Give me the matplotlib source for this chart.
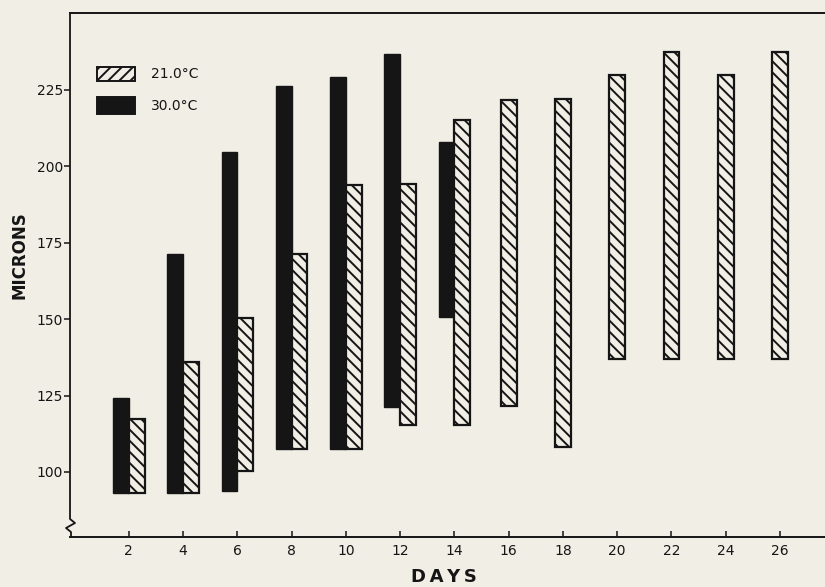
import matplotlib
matplotlib.use("Agg")
import matplotlib.pyplot as plt
from matplotlib.patches import Rectangle
from matplotlib.lines import Line2D

# Growth ranges (microns) per sampling day at two temperatures
days_21 = [2, 4, 6, 8, 10, 12, 14, 16, 18, 20, 22, 24, 26]
low_21 = [93.2, 93.2, 100.4, 107.4, 107.4, 115.2, 115.2, 121.6, 108.3, 137.0, 137.0, 137.0, 137.0]
high_21 = [117.2, 136.1, 150.3, 171.2, 193.9, 194.1, 215.2, 221.7, 221.9, 229.8, 237.4, 230.0, 237.4]

days_30 = [2, 4, 6, 8, 10, 12, 14]
low_30 = [93.2, 93.2, 93.8, 107.4, 107.4, 121.4, 150.8]
high_30 = [124.1, 171.2, 204.6, 226.2, 229.1, 236.8, 207.9]

x_ticks = [2, 4, 6, 8, 10, 12, 14, 16, 18, 20, 22, 24, 26]
y_ticks = [100, 125, 150, 175, 200, 225]
series_labels = ["21.0°C", "30.0°C"]

BG = "#f0eee5"
INK = "#151515"
W = 0.58

plt.rcParams["font.family"] = ["DejaVu Sans"]
plt.rcParams["hatch.linewidth"] = 1.4
plt.rcParams["hatch.color"] = INK

fig = plt.figure(figsize=(8.25, 5.87), dpi=100, facecolor=BG)
FW, FH = 825.0, 587.0
ax_l, ax_r, ax_t, ax_b = 70.0, 825.0, 13.0, 537.0
ax = fig.add_axes([ax_l / FW, 1 - ax_b / FH, (ax_r - ax_l) / FW, (ax_b - ax_t) / FH])
ax.set_facecolor(BG)

# 30.0 °C: solid bars, left of the day
ax.bar([d - W for d in days_30], [h - l for h, l in zip(high_30, low_30)],
       bottom=low_30, width=W, align="edge", color=INK, edgecolor=INK,
       linewidth=1.0, zorder=3)

# 21.0 °C: hatched bars, right of the day when paired, centred otherwise
x21 = [d if d in days_30 else d - W / 2 for d in days_21]
ax.bar(x21, [h - l for h, l in zip(high_21, low_21)], bottom=low_21,
       width=W, align="edge", facecolor=BG, edgecolor=INK, hatch="\\\\\\",
       linewidth=1.6, zorder=3)

ax.set_xlim(-0.17, 27.66)
ax.set_ylim(78.7, 250.2)
ax.set_xticks(x_ticks)
ax.set_xticklabels([str(t) for t in x_ticks])
ax.set_yticks(y_ticks)
ax.set_yticklabels([str(t) for t in y_ticks])
ax.tick_params(axis="x", direction="in", length=4, width=1.1, pad=5,
               labelsize=10, colors=INK)
ax.tick_params(axis="y", direction="out", length=4, width=1.1, pad=1,
               labelsize=10, colors=INK)

for s in ("right", "left"):
    ax.spines[s].set_visible(False)
for s in ("top", "bottom"):
    ax.spines[s].set_linewidth(1.4)
    ax.spines[s].set_color(INK)

# Left axis with a break mark near the bottom
def ax_pt(px, py):
    return ((px - ax_l) / (ax_r - ax_l), (ax_b - py) / (ax_b - ax_t))

pts = [ax_pt(70, 13), ax_pt(70, 519), ax_pt(75, 523), ax_pt(66, 528),
       ax_pt(71, 532), ax_pt(71, 537)]
ax.add_line(Line2D([p[0] for p in pts], [p[1] for p in pts], color=INK,
                   linewidth=1.3, transform=ax.transAxes, clip_on=False,
                   zorder=5))

# Key
lx0, lx1 = ax_pt(97, 0)[0], ax_pt(135, 0)[0]
for (py0, py1), hatch, face, lab in [((67, 81), "///", BG, series_labels[0]),
                                      ((97, 114), None, INK, series_labels[1])]:
    y0 = ax_pt(0, py1)[1]
    y1 = ax_pt(0, py0)[1]
    ax.add_patch(Rectangle((lx0, y0), lx1 - lx0, y1 - y0, transform=ax.transAxes,
                           facecolor=face, edgecolor=INK, hatch=hatch,
                           linewidth=1.4, zorder=4))
    ax.text(ax_pt(151, 0)[0], (y0 + y1) / 2, lab, transform=ax.transAxes,
            fontsize=10, color=INK, va="center", ha="left")

fig.text(20 / FW, 1 - 255 / FH, "MICRONS", rotation=90, ha="center",
         va="center", fontsize=12, fontweight="bold", color=INK)
fig.text(444 / FW, 1 - 577 / FH, "D\u2009A\u2009Y\u2009S", ha="center",
         va="center", fontsize=13, fontweight="bold", color=INK)

fig.savefig("out.png", dpi=100, facecolor=BG)
